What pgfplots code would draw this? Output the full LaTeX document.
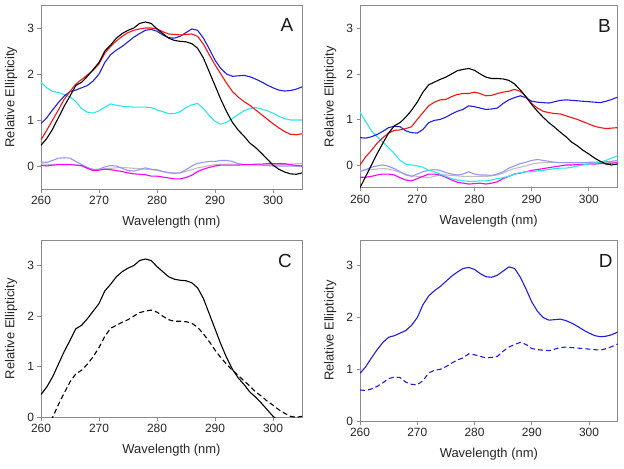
\documentclass[border=0pt]{standalone}
\usepackage{pgfplots}
\usepackage{pgfplotstable}
\pgfplotsset{compat=1.18}
\usepackage{fontspec}
\setmainfont{Liberation Sans}

\definecolor{axgray}{RGB}{140,140,140}
\definecolor{cRed}{RGB}{245,20,20}
\definecolor{cBlue}{RGB}{30,30,225}
\definecolor{cCyan}{RGB}{40,232,232}
\definecolor{cLav}{RGB}{150,150,245}
\definecolor{cGray}{RGB}{190,190,190}
\definecolor{cMag}{RGB}{250,0,250}

% x  black red blue cyan lavender gray magenta
\pgfplotstableread{
x k r b c l g m
260 0.45 0.57 0.92 1.82 0.09 0.05 0.02
261 0.60 0.78 1.05 1.70 0.08 0.04 0.00
262 0.80 1.00 1.22 1.62 0.12 0.03 0.02
263 1.05 1.22 1.38 1.60 0.17 0.04 0.03
264 1.30 1.45 1.52 1.55 0.18 0.04 0.03
265 1.52 1.62 1.62 1.50 0.17 0.04 0.03
266 1.75 1.78 1.65 1.40 0.10 0.02 0.02
267 1.82 1.88 1.70 1.25 0.03 0.00 0.01
268 1.95 1.98 1.75 1.17 -0.03 -0.05 -0.05
269 2.10 2.08 1.85 1.15 -0.08 -0.07 -0.10
270 2.25 2.22 2.00 1.20 -0.07 -0.08 -0.09
271 2.50 2.45 2.25 1.28 -0.02 -0.06 -0.07
272 2.63 2.60 2.42 1.35 0.01 -0.05 -0.08
273 2.78 2.72 2.52 1.32 0.00 -0.04 -0.10
274 2.88 2.82 2.60 1.30 -0.05 -0.03 -0.12
275 2.95 2.90 2.70 1.29 -0.10 -0.04 -0.15
276 3.00 2.95 2.80 1.28 -0.11 -0.05 -0.17
277 3.10 2.98 2.88 1.28 -0.08 -0.06 -0.18
278 3.13 3.00 2.95 1.28 -0.04 -0.07 -0.19
279 3.10 3.00 2.97 1.27 -0.07 -0.08 -0.22
280 2.98 2.98 2.93 1.22 -0.08 -0.10 -0.22
281 2.88 2.92 2.85 1.18 -0.12 -0.12 -0.24
282 2.78 2.87 2.79 1.14 -0.15 -0.14 -0.26
283 2.73 2.86 2.78 1.14 -0.16 -0.15 -0.28
284 2.71 2.85 2.82 1.18 -0.15 -0.15 -0.28
285 2.70 2.86 2.90 1.27 -0.08 -0.12 -0.25
286 2.66 2.87 2.98 1.33 0.00 -0.08 -0.20
287 2.56 2.82 2.95 1.36 0.06 -0.04 -0.12
288 2.35 2.65 2.78 1.25 0.08 -0.02 -0.07
289 2.05 2.42 2.55 1.10 0.10 0.01 -0.03
290 1.75 2.20 2.30 0.97 0.10 0.03 0.00
291 1.45 2.00 2.12 0.91 0.12 0.04 0.02
292 1.18 1.80 2.00 0.95 0.12 0.04 0.02
293 0.95 1.62 1.95 1.03 0.10 0.04 0.02
294 0.78 1.50 1.96 1.12 0.05 0.04 0.02
295 0.65 1.40 1.97 1.20 0.03 0.03 0.03
296 0.50 1.32 1.94 1.25 0.03 0.03 0.03
297 0.40 1.22 1.89 1.27 0.03 0.02 0.04
298 0.28 1.12 1.83 1.24 0.02 0.02 0.04
299 0.15 1.02 1.76 1.20 0.01 0.02 0.05
300 0.02 0.92 1.70 1.15 0.00 0.02 0.05
301 -0.07 0.83 1.65 1.08 0.00 0.03 0.05
302 -0.13 0.75 1.63 1.03 0.00 0.03 0.05
303 -0.17 0.69 1.64 1.00 0.00 0.04 0.03
304 -0.18 0.68 1.67 1.00 0.00 0.05 0.01
305 -0.15 0.70 1.72 1.00 0.00 0.05 0.00
}\tabA

\pgfplotstableread{
x k r b c l g m
260 -0.50 0.00 0.60 1.16 -0.15 -0.12 -0.27
261 -0.25 0.18 0.59 0.95 -0.10 -0.11 -0.27
262 0.00 0.32 0.62 0.75 -0.05 -0.10 -0.25
263 0.25 0.48 0.67 0.62 -0.02 -0.09 -0.22
264 0.48 0.60 0.74 0.50 0.00 -0.08 -0.20
265 0.70 0.70 0.82 0.38 -0.03 -0.09 -0.20
266 0.86 0.76 0.85 0.25 -0.08 -0.12 -0.22
267 0.93 0.77 0.84 0.10 -0.15 -0.16 -0.28
268 1.05 0.80 0.75 0.02 -0.22 -0.20 -0.33
269 1.20 0.84 0.71 0.00 -0.25 -0.24 -0.35
270 1.38 1.00 0.70 -0.02 -0.20 -0.25 -0.30
271 1.60 1.15 0.78 -0.05 -0.15 -0.27 -0.25
272 1.76 1.30 0.93 -0.12 -0.12 -0.28 -0.20
273 1.82 1.38 0.98 -0.15 -0.10 -0.25 -0.20
274 1.88 1.43 1.00 -0.20 -0.12 -0.22 -0.22
275 1.93 1.44 1.05 -0.25 -0.17 -0.22 -0.27
276 2.00 1.50 1.12 -0.30 -0.20 -0.23 -0.33
277 2.07 1.55 1.18 -0.33 -0.22 -0.24 -0.38
278 2.10 1.57 1.22 -0.35 -0.20 -0.25 -0.40
279 2.12 1.57 1.30 -0.36 -0.15 -0.25 -0.42
280 2.08 1.60 1.28 -0.36 -0.20 -0.25 -0.41
281 2.00 1.57 1.25 -0.35 -0.22 -0.25 -0.40
282 1.93 1.52 1.22 -0.35 -0.22 -0.25 -0.42
283 1.90 1.53 1.23 -0.33 -0.23 -0.24 -0.40
284 1.90 1.57 1.25 -0.30 -0.20 -0.22 -0.37
285 1.89 1.60 1.35 -0.28 -0.15 -0.18 -0.30
286 1.86 1.62 1.43 -0.25 -0.07 -0.12 -0.25
287 1.78 1.66 1.48 -0.20 -0.02 -0.08 -0.20
288 1.65 1.62 1.52 -0.17 0.03 -0.05 -0.18
289 1.50 1.50 1.48 -0.15 0.06 -0.02 -0.15
290 1.33 1.35 1.40 -0.15 0.10 0.02 -0.12
291 1.18 1.25 1.38 -0.13 0.12 0.04 -0.10
292 1.05 1.18 1.37 -0.12 0.10 0.05 -0.08
293 0.93 1.15 1.36 -0.10 0.08 0.05 -0.06
294 0.83 1.13 1.39 -0.08 0.06 0.05 -0.04
295 0.72 1.12 1.42 -0.07 0.05 0.05 -0.02
296 0.62 1.08 1.43 -0.07 0.05 0.05 0.00
297 0.50 1.04 1.42 -0.05 0.05 0.05 0.00
298 0.42 1.00 1.41 -0.02 0.05 0.05 0.01
299 0.32 0.95 1.40 0.00 0.05 0.05 0.01
300 0.24 0.90 1.39 0.02 0.06 0.05 0.02
301 0.15 0.85 1.38 0.04 0.06 0.05 0.02
302 0.08 0.82 1.37 0.06 0.07 0.05 0.03
303 0.02 0.80 1.40 0.10 0.07 0.06 0.03
304 0.00 0.81 1.44 0.15 0.08 0.06 0.04
305 0.02 0.82 1.49 0.20 0.10 0.06 0.05
}\tabB

\tikzset{letter/.style={font=\fontsize{19}{21}\selectfont, text=black!90, anchor=center}}

\pgfplotsset{
  panel/.style={
    scale only axis,
    anchor=south west,
    xmin=260, xmax=305,
    xtick={260,270,280,290,300},
    ytick={0,1,2,3},
    axis line style={draw=axgray, line width=0.8bp},
    every tick/.style={draw=axgray, line width=0.8bp},
    tick align=outside,
    xtick pos=bottom, ytick pos=left,
    major tick length=3.5bp,
    ticklabel style={font=\fontsize{12}{14}\selectfont, text=black!85},
    /pgf/number format/assume math mode=true,
    xlabel={Wavelength (nm)},
    ylabel={Relative Ellipticity},
    label style={font=\fontsize{13}{15}\selectfont, text=black!85},
    xlabel style={at={(axis description cs:0.5,0)}, anchor=center, yshift=-33bp},
    ylabel style={anchor=center},
    clip=true,
    every axis plot/.append style={line width=1.1bp, no marks},
  },
}

\begin{document}
\begin{tikzpicture}
\useasboundingbox (0,0) rectangle (624bp,-469bp);

% Panel A
\begin{axis}[panel, at={(41bp,-189bp)}, width=261bp, height=184bp,
  ymin=-0.5, ymax=3.5,
  ylabel style={at={(axis description cs:-0.115,0.5)}}]
\addplot[cGray] table[x=x,y=g] {\tabA};
\addplot[cLav] table[x=x,y=l] {\tabA};
\addplot[cMag] table[x=x,y=m] {\tabA};
\addplot[cCyan] table[x=x,y=c] {\tabA};
\addplot[cBlue] table[x=x,y=b] {\tabA};
\addplot[cRed] table[x=x,y=r] {\tabA};
\addplot[black] table[x=x,y=k] {\tabA};
\node[letter] at (rel axis cs:1,1) [xshift=-15bp, yshift=-20bp] {A};
\end{axis}

% Panel B
\begin{axis}[panel, at={(360bp,-187.7bp)}, width=257.5bp, height=182bp,
  ymin=-0.5, ymax=3.5,
  ylabel style={at={(axis description cs:-0.115,0.5)}}]
\addplot[cGray] table[x=x,y=g] {\tabB};
\addplot[cLav] table[x=x,y=l] {\tabB};
\addplot[cMag] table[x=x,y=m] {\tabB};
\addplot[cCyan] table[x=x,y=c] {\tabB};
\addplot[cBlue] table[x=x,y=b] {\tabB};
\addplot[cRed] table[x=x,y=r] {\tabB};
\addplot[black] table[x=x,y=k] {\tabB};
\node[letter] at (rel axis cs:1,1) [xshift=-13bp, yshift=-20bp] {B};
\end{axis}

% Panel C
\begin{axis}[panel, at={(41bp,-417.3bp)}, width=261bp, height=177bp,
  ymin=0, ymax=3.5,
  ylabel style={at={(axis description cs:-0.115,0.5)}}]
\addplot[black] table[x=x,y=k] {\tabA};
\addplot[black, dash pattern=on 5bp off 3bp] table[x=x,y=k] {\tabB};
\node[letter] at (rel axis cs:1,1) [xshift=-17bp, yshift=-21bp] {C};
\end{axis}

% Panel D
\begin{axis}[panel, at={(360bp,-421bp)}, width=257.7bp, height=181bp,
  ymin=0, ymax=3.5,
  ylabel style={at={(axis description cs:-0.115,0.5)}}]
\addplot[cBlue] table[x=x,y=b] {\tabA};
\addplot[cBlue, dash pattern=on 5bp off 3bp] table[x=x,y=b] {\tabB};
\node[letter] at (rel axis cs:1,1) [xshift=-12bp, yshift=-21bp] {D};
\end{axis}
\end{tikzpicture}
\end{document}
